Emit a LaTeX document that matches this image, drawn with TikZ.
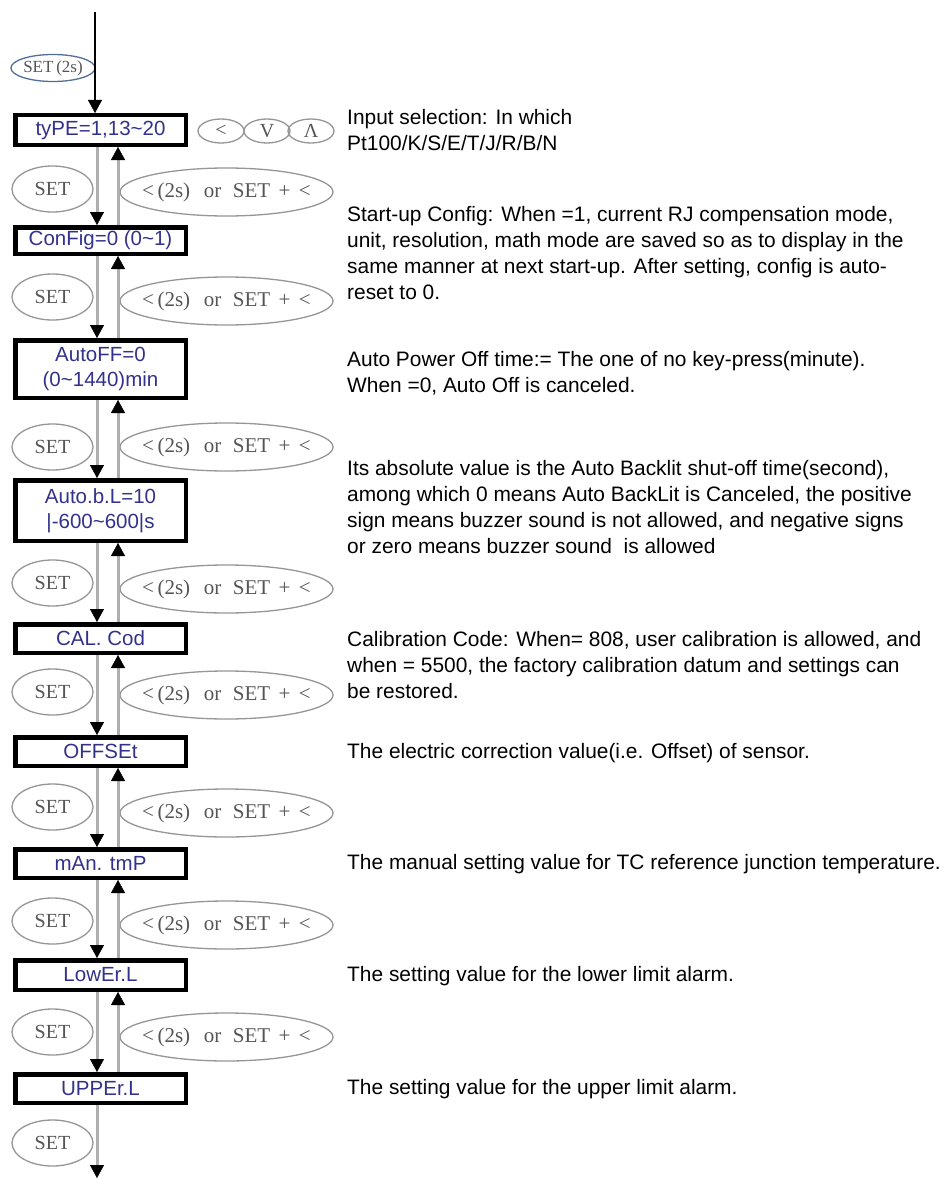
\documentclass[tikz,border=0pt]{standalone}
\usepackage{fontspec}
\setmainfont{Liberation Sans}
\newfontfamily\serifkey{Liberation Serif}
\usetikzlibrary{arrows.meta,shapes.geometric}
\definecolor{lblue}{RGB}{50,50,140}
\definecolor{keygray}{RGB}{85,85,85}
\definecolor{ringgray}{RGB}{150,150,150}
\definecolor{linegray}{RGB}{175,175,175}
\definecolor{ringblue}{RGB}{80,110,150}
\begin{document}
\begin{tikzpicture}[x=1pt,y=-1pt,
  menubox/.style={draw=black,line width=4.5pt,minimum width=170.5pt,inner sep=0pt,text=lblue,align=center,font=\fontsize{20.5}{25}\selectfont},
  keyring/.style={ellipse,draw=ringgray,line width=1.3pt,inner sep=0pt,text=keygray,font=\serifkey\fontsize{20}{24}\selectfont},
  setkey/.style={keyring,minimum width=81pt,minimum height=46pt},
  backkey/.style={keyring,inner xsep=-16pt,minimum width=213pt,minimum height=48pt,font=\serifkey\fontsize{21}{24}\selectfont},
  arrowkey/.style={keyring,minimum width=46pt,minimum height=24pt,font=\serifkey\fontsize{20}{22}\selectfont},
  desc/.style={anchor=base west,align=left,inner sep=0pt,font=\fontsize{20.9}{26}\selectfont},
  tipblack/.style={-{Triangle[width=14pt,length=13pt,color=black,line width=0.4pt]}},
  fwd/.style={draw=linegray,line width=3pt,tipblack},
]
\useasboundingbox (0,0) rectangle (943,1180);
\fill[white] (0,0) rectangle (943,1180);

% key ellipses
\node[keyring,draw=ringblue,minimum width=79pt,minimum height=27pt,font=\serifkey\fontsize{17}{18}\selectfont] (st) at (53,68) {SET\,(2s)};
\node[arrowkey] (s1) at (221,131) {<};
\node[arrowkey] (s2) at (267,131) {V};
\node[arrowkey] (s3) at (311,131) {Λ};

\foreach \i/\y in {1/189,2/297,3/447,4/583,5/692,6/807,7/921,8/1032,9/1143}
  \node[setkey] (k\i) at (52.5,\y) {SET};
\foreach \i/\y in {1/192,2/301,3/447,4/589,5/695,6/813,7/925,8/1037}
  \node[backkey] (r\i) at (226.5,\y) {<\,(2s)\hspace{0.65em}or\hspace{0.55em}SET\hspace{0.4em}+\hspace{0.4em}<};

% menu boxes
\node[menubox,minimum height=29.5pt] (b1) at (100.5,130) {tyPE=1,13\textasciitilde20};
\node[menubox,minimum height=26.5pt] (b2) at (100.5,240.5) {ConFig=0 (0\textasciitilde1)};
\node[menubox,minimum height=57.5pt] (b3) at (100.5,369) {AutoFF=0\\(0\textasciitilde1440)min};
\node[menubox,minimum height=60.5pt] (b4) at (100.5,510.5) {Auto.b.L=10\\|-600\textasciitilde600|s};
\node[menubox,minimum height=28.5pt] (b5) at (100.5,638.5) {CAL. Cod};
\node[menubox,minimum height=28.5pt] (b6) at (100.5,751.5) {OFFSEt};
\node[menubox,minimum height=28.5pt] (b7) at (100.5,863.5) {mAn. tmP};
\node[menubox,minimum height=29.5pt] (b8) at (100.5,975) {LowEr.L};
\node[menubox,minimum height=28.5pt] (b9) at (100.5,1088.5) {UPPEr.L};

% connectors
\coordinate (top) at (95,12);
\coordinate (bottom) at (97,1178);
\draw[black,line width=1.2pt,tipblack] (top) -- ([xshift=-5.5pt]b1.north);
\foreach \a/\b in {b1/b2,b2/b3,b3/b4,b4/b5,b5/b6,b6/b7,b7/b8,b8/b9}{
  \draw[fwd] ([xshift=-3.5pt]\a.south) -- ([xshift=-3.5pt]\b.north);
  \draw[fwd] ([xshift=17.5pt]\b.north) -- ([xshift=17.5pt]\a.south);
}
\draw[fwd] ([xshift=-3.5pt]b9.south) -- (bottom);

% descriptions (base anchor = baseline of last line)
\node[desc] (d1) at (347,150) {Input selection: In which\\Pt100/K/S/E/T/J/R/B/N};
\node[desc] (d2) at (347,299) {Start-up Config: When =1, current RJ compensation mode,\\unit, resolution, math mode are saved so as to display in the\\same manner at next start-up. After setting, config is auto-\\reset to 0.};
\node[desc] (d3) at (347,392) {Auto Power Off time:= The one of no key-press(minute).\\When =0, Auto Off is canceled.};
\node[desc] (d4) at (347,553) {Its absolute value is the Auto Backlit shut-off time(second),\\among which 0 means Auto BackLit is Canceled, the positive\\sign means buzzer sound is not allowed, and negative signs\\or zero means buzzer sound\ \ is allowed};
\node[desc] (d5) at (347,698) {Calibration Code: When= 808, user calibration is allowed, and\\when = 5500, the factory calibration datum and settings can\\be restored.};
\node[desc] (d6) at (347,758) {The electric correction value(i.e. Offset) of sensor.};
\node[desc] (d7) at (347,869) {The manual setting value for TC reference junction temperature.};
\node[desc] (d8) at (347,981) {The setting value for the lower limit alarm.};
\node[desc] (d9) at (347,1094) {The setting value for the upper limit alarm.};
\end{tikzpicture}
\end{document}
